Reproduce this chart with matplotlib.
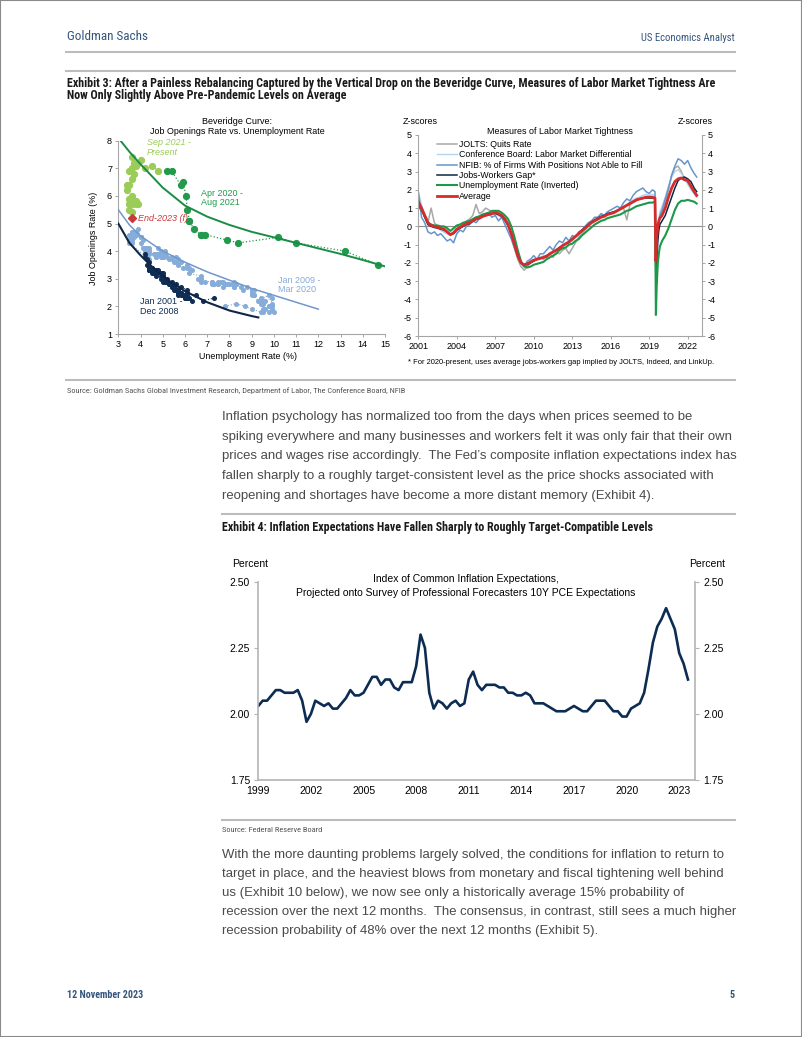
import numpy as np
import matplotlib
matplotlib.use('Agg')
import matplotlib.pyplot as plt
import matplotlib.font_manager as fm
from matplotlib.font_manager import FontProperties
from matplotlib.lines import Line2D
from matplotlib.patches import Rectangle

W, H = 802, 1037

avail = {f.name for f in fm.fontManager.ttflist}
SANS = 'Liberation Sans' if 'Liberation Sans' in avail else 'DejaVu Sans'
plt.rcParams['font.family'] = SANS
plt.rcParams['axes.unicode_minus'] = False


def _wnum(w):
    if isinstance(w, (int, float)):
        return w
    return {'normal': 400, 'regular': 400, 'book': 400, 'medium': 500, 'bold': 700,
            'semibold': 600, 'demibold': 600, 'light': 300}.get(str(w).lower(), 400)


def narrow_font(bold=False):
    # look for a condensed face; fall back to the plain sans
    want = 700 if bold else 400
    prefs = ['Liberation Sans Narrow', 'Roboto Condensed', 'Open Sans Condensed',
             'Noto Sans', 'DejaVu Sans', 'Open Sans', 'Roboto']
    best = None
    for f in fm.fontManager.ttflist:
        cond = ('Narrow' in f.name or 'Condensed' in f.name or
                str(f.stretch) in ('condensed', 'semi-condensed', 'extra-condensed'))
        if not cond or f.style != 'normal' or abs(_wnum(f.weight) - want) > 50:
            continue
        rank = prefs.index(f.name) if f.name in prefs else len(prefs)
        if best is None or rank < best[0]:
            best = (rank, f.fname)
    if best:
        return FontProperties(fname=best[1])
    return FontProperties(family=SANS, weight='bold' if bold else 'normal')


NARROW = narrow_font(False)
NARROW_B = narrow_font(True)

# ---------------- Beveridge curve data ----------------
fit_green_x = [3.1, 3.5, 4, 5, 6, 7, 8, 9, 10, 11, 12, 13, 14, 15]
fit_green_y = [8.0, 7.6, 7.15, 6.3, 5.65, 5.25, 4.95, 4.7, 4.5, 4.3, 4.1, 3.9, 3.68, 3.45]
fit_lblue_x = [3.0, 3.5, 4, 5, 6, 7, 8, 9, 10, 11, 12]
fit_lblue_y = [5.5, 4.95, 4.55, 4.0, 3.6, 3.25, 2.95, 2.65, 2.4, 2.15, 1.9]
fit_navy_x = [3.0, 3.5, 4, 4.5, 5, 5.5, 6, 7, 8, 9, 9.3]
fit_navy_y = [5.0, 4.3, 3.85, 3.45, 3.1, 2.8, 2.55, 2.15, 1.85, 1.65, 1.6]

# Jan 2001 - Dec 2008
navy_u = [4.2, 4.2, 4.3, 4.4, 4.3, 4.5, 4.6, 4.9, 5.0, 5.3, 5.5, 5.7,
          5.7, 5.7, 5.7, 5.9, 5.8, 5.8, 5.8, 5.7, 5.7, 5.7, 5.9, 6.0,
          5.8, 5.9, 5.9, 6.0, 6.1, 6.3, 6.2, 6.1, 6.1, 6.0, 5.8, 5.7,
          5.7, 5.6, 5.8, 5.6, 5.6, 5.6, 5.5, 5.4, 5.4, 5.5, 5.4, 5.4,
          5.3, 5.4, 5.2, 5.2, 5.1, 5.0, 5.0, 4.9, 5.0, 5.0, 5.0, 4.9,
          4.7, 4.8, 4.7, 4.7, 4.6, 4.6, 4.7, 4.7, 4.5, 4.4, 4.5, 4.4,
          4.6, 4.5, 4.4, 4.5, 4.4, 4.6, 4.7, 4.6, 4.7, 4.7, 4.7, 5.0,
          5.0, 4.9, 5.1, 5.0, 5.4, 5.6, 5.8, 6.1, 6.1, 6.5, 6.8, 7.3]
navy_jo = [3.9, 3.8, 3.7, 3.6, 3.5, 3.4, 3.3, 3.2, 3.0, 2.8, 2.7, 2.6,
           2.6, 2.5, 2.5, 2.4, 2.5, 2.4, 2.5, 2.5, 2.5, 2.4, 2.4, 2.3,
           2.5, 2.4, 2.4, 2.3, 2.3, 2.2, 2.3, 2.3, 2.4, 2.4, 2.5, 2.5,
           2.5, 2.6, 2.5, 2.6, 2.6, 2.6, 2.7, 2.7, 2.7, 2.6, 2.8, 2.8,
           2.8, 2.8, 2.9, 3.0, 3.0, 3.0, 3.1, 3.1, 3.1, 3.1, 3.2, 3.2,
           3.3, 3.3, 3.3, 3.2, 3.3, 3.2, 3.2, 3.3, 3.4, 3.3, 3.3, 3.3,
           3.2, 3.3, 3.3, 3.2, 3.4, 3.3, 3.2, 3.2, 3.1, 3.2, 3.2, 3.1,
           3.0, 3.0, 2.9, 2.9, 2.9, 2.8, 2.7, 2.6, 2.5, 2.4, 2.2, 2.3]

# Jan 2009 - Mar 2020
lblue_u = [7.8, 8.3, 8.7, 9.0, 9.4, 9.5, 9.5, 9.6, 9.8, 10.0, 9.9, 9.9,
           9.8, 9.8, 9.9, 9.9, 9.6, 9.4, 9.4, 9.5, 9.5, 9.4, 9.8, 9.3,
           9.1, 9.0, 9.0, 9.1, 9.0, 9.1, 9.0, 9.0, 9.0, 8.8, 8.6, 8.5,
           8.3, 8.3, 8.2, 8.2, 8.2, 8.2, 8.2, 8.1, 7.8, 7.8, 7.7, 7.9,
           8.0, 7.7, 7.5, 7.6, 7.5, 7.5, 7.3, 7.2, 7.2, 7.2, 6.9, 6.7,
           6.6, 6.7, 6.7, 6.2, 6.3, 6.1, 6.2, 6.1, 5.9, 5.7, 5.8, 5.6,
           5.7, 5.5, 5.4, 5.4, 5.6, 5.3, 5.2, 5.1, 5.0, 5.0, 5.1, 5.0,
           4.8, 4.9, 5.0, 5.1, 4.8, 4.9, 4.8, 4.9, 5.0, 4.9, 4.7, 4.7,
           4.7, 4.6, 4.4, 4.4, 4.4, 4.3, 4.3, 4.4, 4.3, 4.2, 4.2, 4.1,
           4.0, 4.1, 4.0, 4.0, 3.8, 4.0, 3.8, 3.8, 3.7, 3.8, 3.8, 3.9,
           4.0, 3.8, 3.8, 3.7, 3.6, 3.6, 3.7, 3.6, 3.5, 3.6, 3.6, 3.6,
           3.5, 3.5, 4.4]
lblue_jo = [2.0, 2.1, 2.0, 1.9, 1.8, 1.9, 1.8, 1.9, 1.8, 1.8, 1.9, 2.0,
            2.0, 2.0, 2.1, 2.3, 2.2, 2.1, 2.2, 2.2, 2.1, 2.3, 2.4, 2.2,
            2.4, 2.4, 2.5, 2.4, 2.5, 2.6, 2.6, 2.5, 2.6, 2.7, 2.6, 2.7,
            2.8, 2.8, 2.9, 2.7, 2.8, 2.8, 2.7, 2.8, 2.8, 2.8, 2.7, 2.8,
            2.8, 2.9, 2.8, 2.9, 2.8, 2.9, 2.8, 2.9, 2.8, 2.9, 2.9, 2.9,
            3.0, 3.0, 3.1, 3.2, 3.3, 3.4, 3.4, 3.5, 3.4, 3.5, 3.6, 3.6,
            3.7, 3.6, 3.7, 3.8, 3.8, 3.7, 3.8, 3.9, 3.8, 3.8, 3.9, 3.8,
            3.9, 4.0, 3.9, 4.0, 4.1, 3.9, 3.9, 3.8, 3.9, 3.9, 3.8, 3.8,
            3.9, 3.9, 4.0, 3.9, 4.0, 4.1, 4.0, 4.1, 4.1, 4.1, 4.0, 4.1,
            4.3, 4.4, 4.5, 4.5, 4.6, 4.5, 4.6, 4.7, 4.6, 4.6, 4.7, 4.8,
            4.5, 4.6, 4.7, 4.6, 4.7, 4.7, 4.5, 4.4, 4.6, 4.5, 4.4, 4.3,
            4.4, 4.3, 3.7]

# Apr 2020 - Aug 2021
dgreen_u = [14.7, 13.2, 11.0, 10.2, 8.4, 7.9, 6.9, 6.7, 6.7, 6.4, 6.2, 6.2,
            6.1, 6.05, 5.9, 5.8, 5.4, 5.2]
dgreen_jo = [3.5, 4.0, 4.3, 4.5, 4.3, 4.4, 4.6, 4.6, 4.6, 4.8, 5.1, 5.1,
             5.5, 6.0, 6.5, 6.4, 6.9, 6.9]

# Sep 2021 - present
lgreen_u = [4.8, 4.5, 4.2, 3.9, 4.0, 3.8, 3.6, 3.7, 3.6, 3.5, 3.7, 3.6, 3.5,
            3.4, 3.4, 3.6, 3.5, 3.7, 3.6, 3.5, 3.8, 3.9, 3.8, 3.5, 3.6]
lgreen_jo = [6.9, 7.1, 7.0, 7.2, 7.3, 7.1, 7.4, 7.2, 7.0, 6.9, 6.8, 6.6, 6.4,
             6.4, 6.2, 6.0, 5.9, 5.8, 5.7, 5.7, 5.8, 5.7, 5.7, 5.5, 5.4]

end2023_u, end2023_jo = 3.6, 5.2

# ---------------- Labor market tightness (z-scores) ----------------
z_years_q = np.arange(2001.0, 2019.3, 0.25)
z_years_covid = [2019.45, 2019.52, 2019.58, 2019.67, 2019.75, 2019.83, 2020.0,
                 2020.25, 2020.5, 2020.75, 2021.0, 2021.25, 2021.5, 2021.75,
                 2022.0, 2022.25, 2022.5, 2022.7]

z_jolts = [1.5, 1.0, 0.5, 0.2, 1.0, 0.2, 0.0, -0.2, -0.3, -0.4, -0.5, -0.3,
           -0.2, 0.0, 0.1, 0.3, 0.4, 0.6, 1.2, 0.7, 0.8, 1.0, 0.9, 0.8,
           0.7, 0.6, 0.5, 0.3, 0.0, -0.6, -1.2, -1.8, -2.2, -2.4, -2.2, -2.0,
           -1.9, -1.8, -1.7, -1.8, -1.6, -1.5, -1.7, -1.4, -1.5, -1.3, -1.2, -1.5,
           -1.2, -0.9, -0.6, -0.4, -0.2, 0.0, 0.2, 0.3, 0.4, 0.5, 0.6, 0.7,
           0.7, 0.8, 0.9, 0.95, 1.0, 0.35, 1.2, 1.3, 1.4, 1.5, 1.5, 1.6,
           1.6, 1.6,
           1.5, -2.5, -1.5, -0.5, 0.2, 0.6, 0.8, 1.3, 2.0, 2.8, 3.2, 3.3,
           3.0, 2.6, 2.4, 2.1, 1.8, 1.6]
z_cb = [1.9, 1.2, 0.6, 0.2, 0.0, -0.1, -0.1, -0.2, -0.3, -0.4, -0.5, -0.4,
        -0.3, -0.1, 0.0, 0.1, 0.2, 0.35, 0.4, 0.5, 0.6, 0.7, 0.7, 0.75,
        0.8, 0.7, 0.6, 0.4, 0.1, -0.5, -1.1, -1.7, -2.1, -2.2, -2.0, -1.9,
        -1.8, -1.8, -1.7, -1.6, -1.6, -1.5, -1.4, -1.3, -1.2, -1.1, -1.0, -0.9,
        -0.8, -0.6, -0.5, -0.3, -0.1, 0.1, 0.2, 0.4, 0.5, 0.55, 0.6, 0.7,
        0.75, 0.8, 0.9, 1.0, 1.1, 1.2, 1.35, 1.45, 1.55, 1.6, 1.7, 1.75,
        1.7, 1.75,
        1.7, -2.2, -1.0, -0.2, 0.4, 0.8, 1.1, 1.6, 2.2, 2.7, 3.0, 3.1,
        2.9, 2.6, 2.3, 2.0, 1.8, 1.6]
z_nfib = [1.9, 0.5, 0.2, -0.3, -0.4, -0.3, -0.5, -0.4, -0.6, -0.8, -0.7, -0.9,
          -0.4, -0.2, -0.3, 0.0, 0.1, 0.3, 0.2, 0.4, 0.5, 0.6, 0.7, 0.5,
          0.6, 0.3, 0.5, 0.1, -0.3, -0.7, -1.2, -1.7, -2.0, -2.2, -1.9, -1.8,
          -1.6, -1.8, -1.5, -1.5, -1.3, -1.1, -1.3, -1.0, -0.8, -0.9, -0.6, -0.8,
          -0.5, -0.6, -0.3, -0.2, 0.0, 0.2, 0.3, 0.5, 0.5, 0.7, 0.6, 0.8,
          0.9, 1.0, 1.1, 1.0, 1.3, 1.5, 1.4, 1.7, 1.9, 2.0, 2.1, 1.9,
          1.8, 2.0,
          1.9, -1.8, -0.9, -0.5, 0.1, 0.6, 0.9, 1.5, 2.1, 2.8, 3.3, 3.7,
          3.6, 3.4, 3.6, 3.2, 2.9, 2.7]
z_gap = [1.3, 0.9, 0.5, 0.1, 0.0, -0.05, -0.1, -0.15, -0.2, -0.3, -0.45, -0.4,
         -0.2, -0.1, 0.0, 0.1, 0.15, 0.3, 0.4, 0.5, 0.55, 0.6, 0.65, 0.7,
         0.7, 0.65, 0.55, 0.35, 0.05, -0.4, -1.0, -1.6, -2.0, -2.1, -2.1, -2.0,
         -1.9, -1.8, -1.75, -1.7, -1.6, -1.5, -1.4, -1.3, -1.15, -1.05, -0.95, -0.85,
         -0.7, -0.55, -0.4, -0.2, -0.05, 0.1, 0.25, 0.35, 0.45, 0.55, 0.6, 0.7,
         0.75, 0.8, 0.85, 0.95, 1.05, 1.15, 1.25, 1.35, 1.45, 1.5, 1.55, 1.55,
         1.55, 1.55,
         1.5, -3.3, -2.0, -0.8, -0.2, 0.1, 0.3, 0.6, 1.1, 1.6, 2.1, 2.5,
         2.65, 2.7, 2.6, 2.45, 2.1, 1.9]
z_unemp = [1.1, 0.9, 0.6, 0.2, 0.1, 0.05, 0.05, 0.0, 0.0, -0.1, -0.25, -0.1,
           0.05, 0.1, 0.2, 0.25, 0.3, 0.4, 0.5, 0.55, 0.65, 0.7, 0.75, 0.85,
           0.85, 0.85, 0.75, 0.6, 0.4, 0.0, -0.6, -1.3, -1.9, -2.2, -2.25, -2.2,
           -2.1, -2.05, -2.0, -1.95, -1.8, -1.7, -1.6, -1.5, -1.3, -1.2, -1.15, -1.0,
           -0.95, -0.8, -0.7, -0.5, -0.35, -0.2, -0.05, 0.1, 0.2, 0.3, 0.35, 0.45,
           0.5, 0.55, 0.6, 0.65, 0.75, 0.85, 0.9, 1.0, 1.1, 1.15, 1.2, 1.25,
           1.3, 1.3,
           1.35, -4.85, -3.3, -2.0, -1.5, -1.1, -0.8, -0.5, -0.1, 0.4, 0.9, 1.25,
           1.4, 1.4, 1.45, 1.4, 1.35, 1.25]
z_avg = [1.35, 1.0, 0.6, 0.2, 0.05, 0.0, -0.05, -0.1, -0.15, -0.3, -0.45, -0.35,
         -0.15, -0.05, 0.05, 0.15, 0.2, 0.3, 0.4, 0.45, 0.55, 0.6, 0.65, 0.7,
         0.75, 0.7, 0.6, 0.4, 0.1, -0.4, -1.0, -1.6, -2.0, -2.1, -2.05, -1.95,
         -1.85, -1.8, -1.75, -1.7, -1.65, -1.5, -1.4, -1.3, -1.2, -1.05, -0.95, -0.85,
         -0.7, -0.55, -0.4, -0.25, -0.1, 0.05, 0.2, 0.3, 0.4, 0.5, 0.55, 0.65,
         0.7, 0.75, 0.85, 0.95, 1.05, 1.15, 1.25, 1.35, 1.45, 1.5, 1.55, 1.6,
         1.6, 1.6,
         1.55, -1.9, -0.6, 0.0, 0.3, 0.45, 0.6, 1.0, 1.6, 2.1, 2.45, 2.6,
         2.65, 2.55, 2.5, 2.2, 1.9, 1.7]

z_labels = ['JOLTS: Quits Rate', 'Conference Board: Labor Market Differential',
            'NFIB: % of Firms With Positions Not Able to Fill', 'Jobs-Workers Gap*',
            'Unemployment Rate (Inverted)', 'Average']

# ---------------- Index of Common Inflation Expectations (quarterly, 1999Q1-2023Q3) ----------------
cie_start = 1999.0
cie = [2.03, 2.05, 2.05, 2.07, 2.09, 2.09, 2.08, 2.08, 2.08, 2.09, 2.05, 1.97,
       2.00, 2.05, 2.04, 2.03, 2.04, 2.02, 2.02, 2.04, 2.06, 2.09, 2.07, 2.07,
       2.08, 2.11, 2.14, 2.14, 2.11, 2.13, 2.13, 2.10, 2.09, 2.12, 2.12, 2.12,
       2.18, 2.30, 2.25, 2.08, 2.02, 2.05, 2.04, 2.02, 2.04, 2.05, 2.03, 2.04,
       2.13, 2.16, 2.11, 2.09, 2.11, 2.11, 2.11, 2.10, 2.10, 2.08, 2.08, 2.07,
       2.07, 2.08, 2.07, 2.04, 2.04, 2.04, 2.03, 2.02, 2.01, 2.01, 2.01, 2.02,
       2.03, 2.02, 2.01, 2.01, 2.03, 2.05, 2.05, 2.05, 2.03, 2.01, 2.01, 1.99,
       1.99, 2.02, 2.03, 2.04, 2.08, 2.17, 2.27, 2.33, 2.36, 2.40, 2.36, 2.32,
       2.23, 2.19, 2.13]
cie_years = cie_start + 0.25 * np.arange(len(cie))

# ---------------- page text ----------------
para1 = ["Inflation psychology has normalized too from the days when prices seemed to be",
         "spiking everywhere and many businesses and workers felt it was only fair that their own",
         "prices and wages rise accordingly.  The Fed\u2019s composite inflation expectations index has",
         "fallen sharply to a roughly target-consistent level as the price shocks associated with",
         "reopening and shortages have become a more distant memory (Exhibit 4)."]
para2 = ["With the more daunting problems largely solved, the conditions for inflation to return to",
         "target in place, and the heaviest blows from monetary and fiscal tightening well behind",
         "us (Exhibit 10 below), we now see only a historically average 15% probability of",
         "recession over the next 12 months.  The consensus, in contrast, still sees a much higher",
         "recession probability of 48% over the next 12 months (Exhibit 5)."]

GS_BLUE = '#34557d'
RULE = '#bcbcbc'
BODY = '#4a4a4a'


def fx(px):
    return px / W


def fy(py):
    return 1 - py / H


def rule(x0, x1, y, lw=1.5):
    fig.add_artist(Line2D([fx(x0), fx(x1)], [fy(y), fy(y)], color=RULE, lw=lw))


def ptext(x, y, s, **kw):
    kw.setdefault('va', 'center')
    return fig.text(fx(x), fy(y), s, **kw)


fig = plt.figure(figsize=(W / 100, H / 100), dpi=100)
fig.patch.set_facecolor('white')
renderer = fig.canvas.get_renderer()


def fit_size(t, width_px):
    # size a text so that it spans the width seen in the page
    bb = t.get_window_extent(renderer)
    t.set_fontsize(t.get_fontsize() * width_px / bb.width)
    return t.get_fontsize()


fig.add_artist(Rectangle((0, 0), 1, 1, transform=fig.transFigure, fill=False,
                         edgecolor='#8a8a8a', lw=1.5))

# header / footer
t = ptext(67, 36, 'Goldman Sachs', fontproperties=NARROW.copy(), fontsize=10, color=GS_BLUE)
fit_size(t, 82)
t = ptext(735, 38, 'US Economics Analyst', fontproperties=NARROW.copy(), fontsize=7.5,
          color=GS_BLUE, ha='right')
fit_size(t, 94)
rule(66, 735, 52)
rule(66, 735, 71)
t1 = ptext(67, 83.5, 'Exhibit 3: After a Painless Rebalancing Captured by the Vertical Drop on the '
           'Beveridge Curve, Measures of Labor Market Tightness Are',
           fontproperties=NARROW_B.copy(), fontsize=7.6, color='#1a1a1a')
title_size = fit_size(t1, 643)
ptext(67, 95.5, 'Now Only Slightly Above Pre-Pandemic Levels on Average',
      fontproperties=NARROW_B.copy(), fontsize=title_size, color='#1a1a1a')

# ---------------- left chart: Beveridge curve ----------------
C_DG, C_LG, C_LB, C_NV, C_RD = '#229a4b', '#9bcc58', '#86acd9', '#0f2d55', '#c8393b'
ax1 = fig.add_axes([fx(118.3), fy(334), (385 - 118.3) / W, (334 - 140.7) / H])
ax1.plot(lblue_u, lblue_jo, ':', color=C_LB, lw=0.8, marker='o', ms=2.6, mec=C_LB, mfc=C_LB, zorder=2)
ax1.plot(navy_u, navy_jo, ':', color=C_NV, lw=0.8, marker='o', ms=2.6, mec=C_NV, mfc=C_NV, zorder=3)
ax1.plot(fit_lblue_x, fit_lblue_y, color='#7098cc', lw=1.1, zorder=4)
ax1.plot(fit_navy_x, fit_navy_y, color='#0f2647', lw=1.5, zorder=4)
ax1.plot(dgreen_u, dgreen_jo, ':', color=C_DG, lw=0.9, marker='o', ms=4.2, mec=C_DG, mfc=C_DG, zorder=3)
ax1.plot(lgreen_u, lgreen_jo, ':', color=C_LG, lw=0.9, marker='o', ms=4.2, mec=C_LG, mfc=C_LG, zorder=3)
ax1.plot(fit_green_x, fit_green_y, color='#1b8c46', lw=1.4, zorder=4)
ax1.plot([end2023_u], [end2023_jo], marker='D', ms=3.6, color=C_RD, zorder=5)
ax1.text(3.9, 5.2, 'End-2023 (f)', color=C_RD, style='italic', fontsize=6.5, va='center')
ax1.text(4.3, 7.75, 'Sep 2021 -\nPresent', color=C_LG, style='italic', fontsize=6.5,
         va='center', linespacing=1.05, zorder=6)
ax1.text(6.7, 5.93, 'Apr 2020 -\nAug 2021', color=C_DG, fontsize=6.5, va='center', linespacing=1.05)
ax1.text(10.2, 2.78, 'Jan 2009 -\nMar 2020', color=C_LB, fontsize=6.5, va='center', linespacing=1.05)
ax1.text(3.97, 2.0, 'Jan 2001 -\nDec 2008', color=C_NV, fontsize=6.5, va='center', linespacing=1.05)
ax1.set_xlim(3, 15)
ax1.set_ylim(1, 8)
ax1.set_xticks(range(3, 16))
ax1.set_yticks(range(1, 9))
for side in ['top', 'right']:
    ax1.spines[side].set_visible(False)
for side in ['left', 'bottom']:
    ax1.spines[side].set_color('#a6a6a6')
    ax1.spines[side].set_linewidth(0.8)
ax1.tick_params(direction='out', length=2.5, width=0.7, color='#a6a6a6', labelsize=6.5, pad=2)
t = ptext(237, 122, 'Beveridge Curve:', fontsize=6.5, ha='center')
t = ptext(237, 132, 'Job Openings Rate vs. Unemployment Rate', fontsize=6.5, ha='center')
chart_size = fit_size(t, 172)
ptext(93, 238, 'Job Openings Rate (%)', fontsize=chart_size, ha='center', rotation=90)
ptext(248, 357, 'Unemployment Rate (%)', fontsize=chart_size, ha='center')

# ---------------- right chart: labor market tightness ----------------
zx = np.concatenate([z_years_q, z_years_covid])
ax2 = fig.add_axes([fx(418.3), fy(336), (701.7 - 418.3) / W, (336 - 135) / H])
ax2.axhline(0, color='#8c8c8c', lw=0.8, zorder=1)
series = [(z_jolts, '#a8a8a8', 1.1), (z_cb, '#b3d3ef', 1.0), (z_nfib, '#6695cc', 1.1),
          (z_gap, '#0e2645', 1.1), (z_unemp, '#1c9848', 1.5), (z_avg, '#d42c2c', 2.0)]
for (vals, col, lw), lab in zip(series, z_labels):
    ax2.plot(zx, vals, color=col, lw=lw, label=lab, zorder=2)
ax2.set_xlim(2001, 2023.09)
ax2.set_ylim(-6, 5)
ax2.set_yticks(range(-6, 6))
ax2.set_xticks(range(2001, 2023, 3))
for side in ['left', 'right', 'bottom']:
    ax2.spines[side].set_color('#a6a6a6')
    ax2.spines[side].set_linewidth(0.8)
ax2.spines['top'].set_visible(False)
ax2.tick_params(direction='out', length=2.5, width=0.7, color='#a6a6a6', labelsize=6.5, pad=2,
                right=True, labelright=True)
leg = ax2.legend(loc='upper left', bbox_to_anchor=(0.065, 0.975), frameon=False, fontsize=6.3,
                 handlelength=2.3, handletextpad=0.3, labelspacing=0.15, borderaxespad=0, borderpad=0)
ptext(403, 122, 'Z-scores', fontsize=6.5)
ptext(713, 122, 'Z-scores', fontsize=6.5, ha='right')
ptext(560, 132, 'Measures of Labor Market Tightness', fontsize=chart_size, ha='center')
t = ptext(408, 363, '* For 2020-present, uses average jobs-workers gap implied by JOLTS, Indeed, and LinkUp.',
          fontsize=5.6)
fit_size(t, 302)

rule(66, 735, 380)
t = ptext(67, 391, 'Source: Goldman Sachs Global Investment Research, Department of Labor, '
          'The Conference Board, NFIB', fontproperties=NARROW.copy(), fontsize=6, color='#555555')
src_size = fit_size(t, 341)

# body text: size set so the widest line runs to the right margin
probes = [ptext(222, 437, s, fontsize=9.2) for s in para1 + para2]
widest = max(p.get_window_extent(renderer).width for p in probes)
body_size = 9.2 * 512 / widest
for p in probes:
    p.remove()
for i, line in enumerate(para1):
    ptext(222, 417 + 19.7 * i, line, fontsize=body_size, color=BODY)

rule(222, 735, 514)
ptext(222, 527, 'Exhibit 4: Inflation Expectations Have Fallen Sharply to Roughly Target-Compatible Levels',
      fontproperties=NARROW_B.copy(), fontsize=title_size, color='#1a1a1a')

# ---------------- Exhibit 4 chart ----------------
ax3 = fig.add_axes([fx(258.3), fy(780), (695 - 258.3) / W, (780 - 581.7) / H])
ax3.plot(cie_years, cie, color='#0d2c52', lw=1.9, solid_joinstyle='round')
ax3.set_xlim(1999, 2023.9)
ax3.set_ylim(1.75, 2.5)
ax3.set_yticks([1.75, 2.0, 2.25, 2.5])
ax3.set_yticklabels(['%.2f' % v for v in [1.75, 2.0, 2.25, 2.5]])
ax3.set_xticks(range(1999, 2024, 3))
for side in ['left', 'right', 'bottom']:
    ax3.spines[side].set_color('#b4b4b4')
    ax3.spines[side].set_linewidth(1.2)
ax3.spines['top'].set_visible(False)
ax3.tick_params(axis='y', direction='out', length=3, width=0.8, color='#b4b4b4', labelsize=7.5,
                pad=3, right=True, labelright=True)
ax3.tick_params(axis='x', length=0, labelsize=7.5, pad=4)
ptext(232, 564, 'Percent', fontsize=7.5)
ptext(725, 564, 'Percent', fontsize=7.5, ha='right')
ptext(466, 579, 'Index of Common Inflation Expectations,', fontsize=7.5, ha='center')
t = ptext(466, 592.5, 'Projected onto Survey of Professional Forecasters 10Y PCE Expectations',
          fontsize=7.5, ha='center')

rule(222, 735, 820)
ptext(222, 830, 'Source: Federal Reserve Board', fontproperties=NARROW.copy(), fontsize=src_size,
      color='#555555')

for i, line in enumerate(para2):
    ptext(222, 855 + 19 * i, line, fontsize=body_size, color=BODY)

t = ptext(67, 995, '12 November 2023', fontproperties=NARROW_B.copy(), fontsize=7.5, color=GS_BLUE)
foot_size = fit_size(t, 75)
ptext(735, 995, '5', fontproperties=NARROW_B.copy(), fontsize=foot_size, color=GS_BLUE, ha='right')

fig.savefig('out.png', dpi=100)
